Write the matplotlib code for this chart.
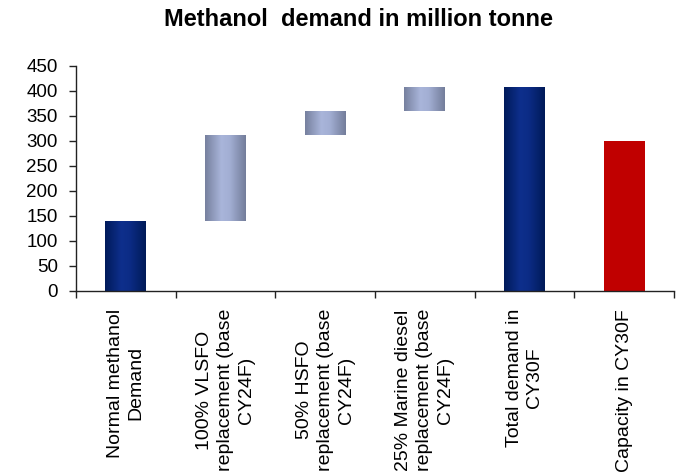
import numpy as np
import matplotlib
matplotlib.use("Agg")
import matplotlib.pyplot as plt
from matplotlib.colors import LinearSegmentedColormap
from matplotlib.patches import Rectangle

plt.rcParams['font.family'] = ['Liberation Sans', 'DejaVu Sans']

# ---------------------------------------------------------------------------
# data
# ---------------------------------------------------------------------------
labels = ['Normal methanol\nDemand',
          '100% VLSFO\nreplacement (base\nCY24F)',
          '50% HSFO\nreplacement (base\nCY24F)',
          '25% Marine diesel\nreplacement (base\nCY24F)',
          'Total demand in\nCY30F',
          'Capacity in CY30F']
normal_demand = 140
increments = [172, 48, 48]          # VLSFO, HSFO, marine diesel
capacity = 300

total_demand = normal_demand + sum(increments)
bottoms = [0] + list(normal_demand + np.cumsum([0] + increments[:-1])) + [0, 0]
heights = [normal_demand] + increments + [total_demand, capacity]

# fill style per bar
dark_blue = LinearSegmentedColormap.from_list(
    'dark_blue', [(0, '#001a5a'), (0.4, '#0e2f8c'), (0.6, '#0c2c86'), (1, '#001a58')])
light_blue = LinearSegmentedColormap.from_list(
    'light_blue', [(0, '#76809e'), (0.4, '#a9b5da'), (0.6, '#a3afd4'), (1, '#737d9a')])
fills = [dark_blue, light_blue, light_blue, light_blue, dark_blue, '#c00000']

# ---------------------------------------------------------------------------
# plot
# ---------------------------------------------------------------------------
fig = plt.figure(figsize=(6.86, 4.73), dpi=100)
ax = fig.add_axes([76 / 686, 1 - 290.7 / 473, 598 / 686, 225 / 473])

width = 0.41
grad = np.linspace(0, 1, 256).reshape(1, -1)
for i, (b, h, f) in enumerate(zip(bottoms, heights, fills)):
    x0 = i - width / 2
    if isinstance(f, str):
        ax.bar(i, h, width, bottom=b, color=f, edgecolor='none')
    else:
        rect = Rectangle((x0, b), width, h, facecolor='none', edgecolor='none')
        ax.add_patch(rect)
        im = ax.imshow(grad, cmap=f, aspect='auto', extent=(x0, x0 + width, b, b + h),
                       interpolation='bilinear', zorder=2)
        im.set_clip_path(rect)

ax.set_xlim(-0.5, len(labels) - 0.5)
ax.set_ylim(0, 450)
ax.set_yticks(np.arange(0, 451, 50))
ax.set_xticks(np.arange(-0.5, len(labels), 1))
ax.set_xticklabels([])

for s in ['top', 'right']:
    ax.spines[s].set_visible(False)
for s in ['left', 'bottom']:
    ax.spines[s].set_linewidth(1.0)
    ax.spines[s].set_color('#222222')
ax.tick_params(axis='both', direction='out', length=5, width=1.0, color='#222222')
ax.tick_params(axis='y', labelsize=13.5, pad=8)

for i, lab in enumerate(labels):
    ax.annotate(lab, xy=(i, 0), xycoords=('data', 'axes fraction'),
                xytext=(0, -13), textcoords='offset points',
                rotation=90, ha='center', va='top', multialignment='center',
                fontsize=14, linespacing=1.3, annotation_clip=False)

fig.text(358 / 686, 1 - 19 / 473, 'Methanol  demand in million tonne',
         ha='center', va='center', fontsize=17, fontweight='bold')

fig.savefig('out.png', dpi=100)
